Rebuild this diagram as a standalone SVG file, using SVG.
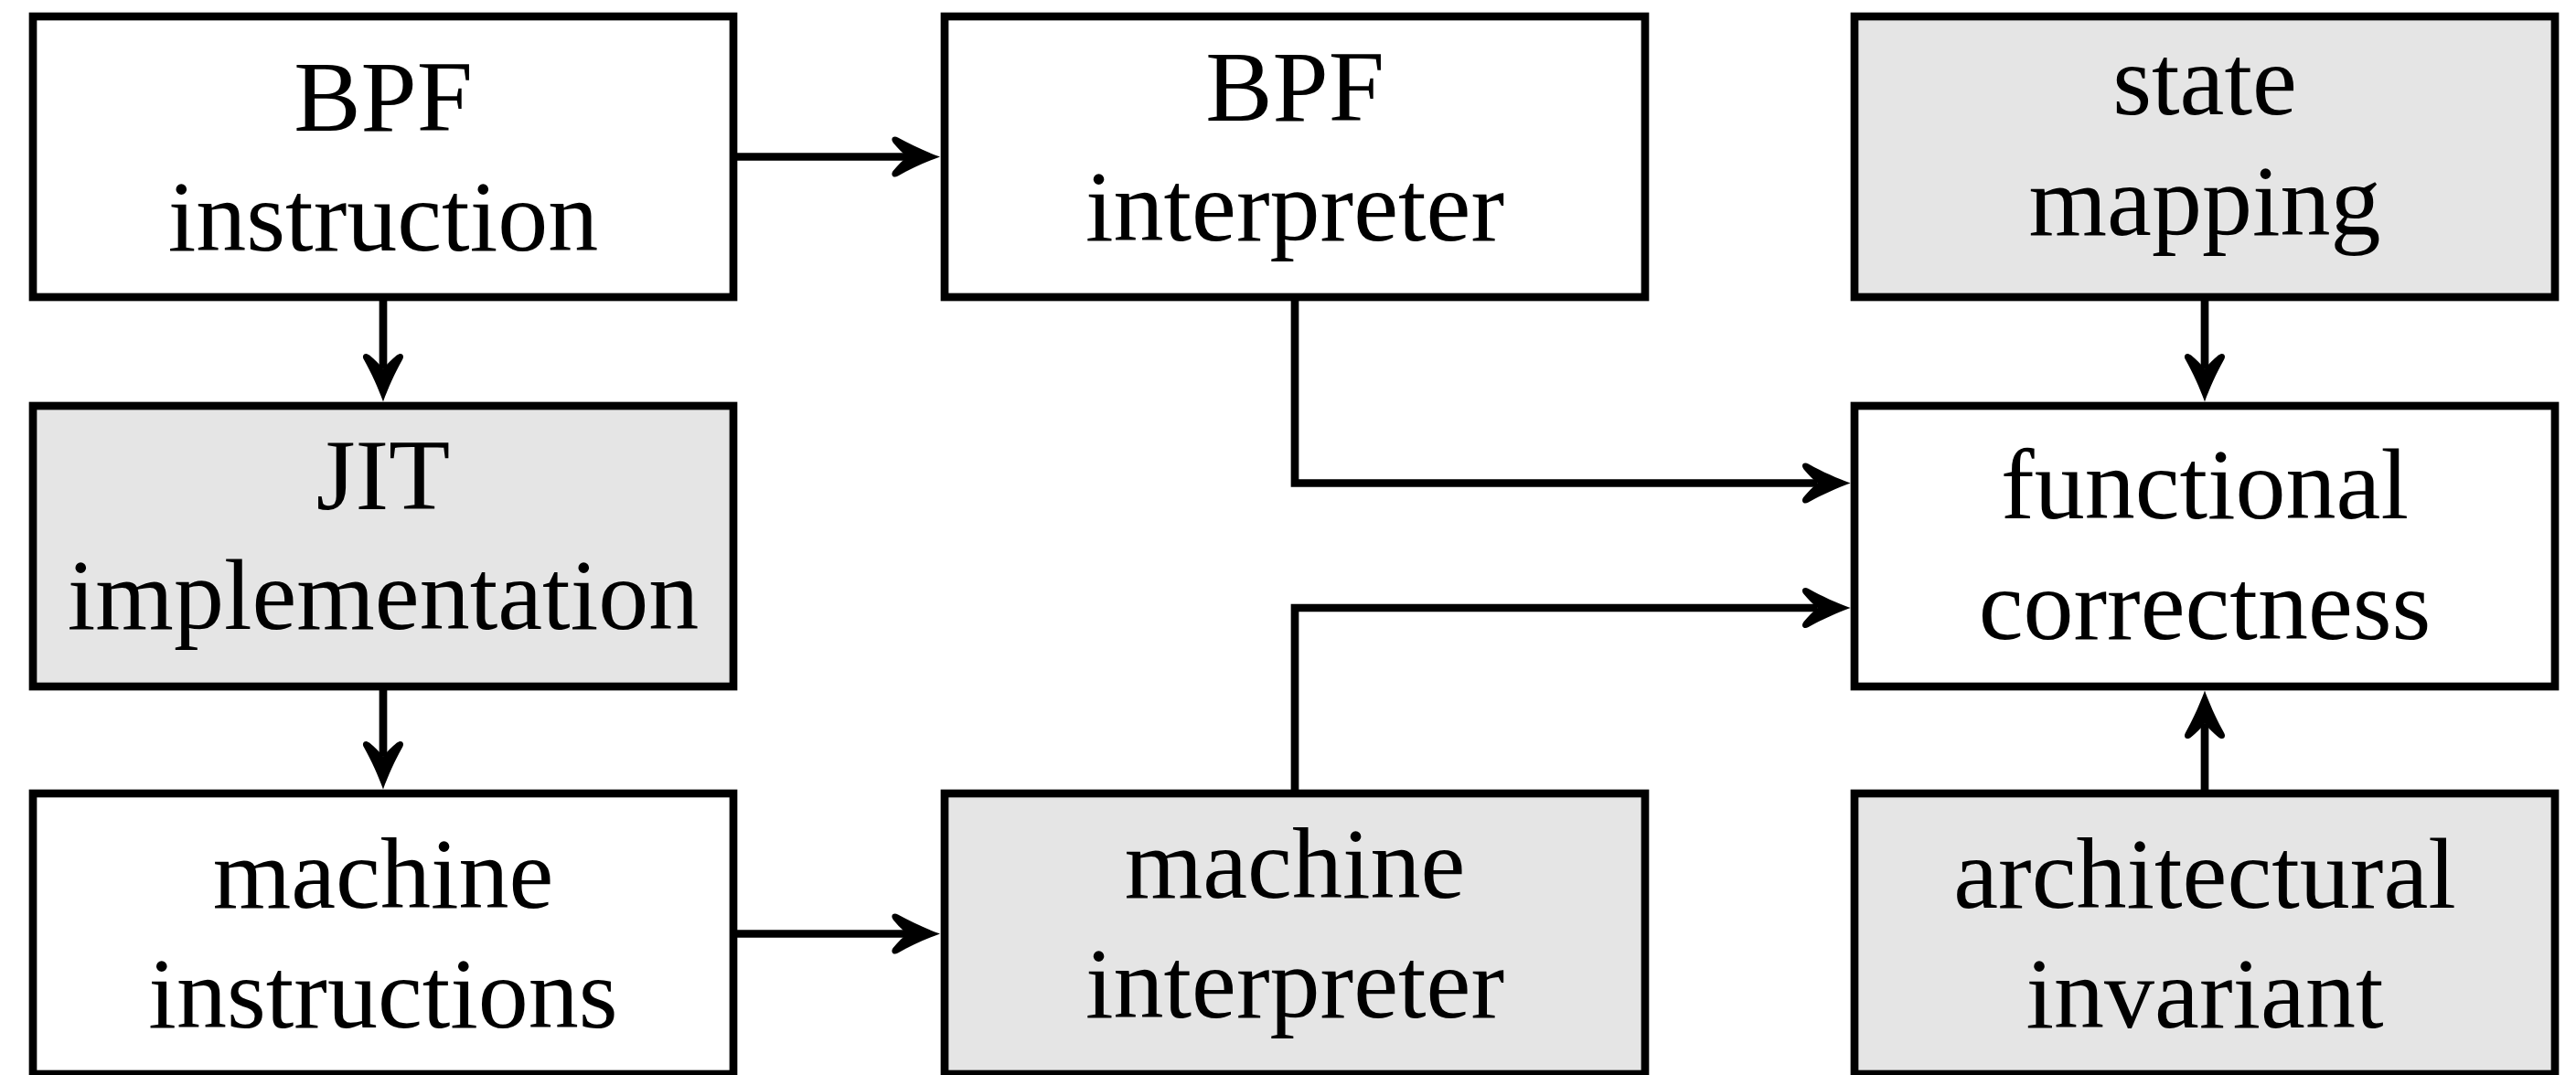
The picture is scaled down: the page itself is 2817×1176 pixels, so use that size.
<svg xmlns="http://www.w3.org/2000/svg" width="2817" height="1176" viewBox="0 0 2817 1176">
<style>
.box{stroke:#000;stroke-width:8.7;fill:#fff}
.gray{fill:#e5e5e5}
.lbl{font-family:'Liberation Serif','Times New Roman',serif;font-size:110px;text-anchor:middle;fill:#000}
.conn{fill:none;stroke:#000;stroke-width:8.7;marker-end:url(#ah)}
</style>
<defs>
<marker id="ah" markerUnits="userSpaceOnUse" viewBox="-25 -30 70 60" markerWidth="70" markerHeight="60" refX="0" refY="0" orient="auto" overflow="visible">
<path d="M 36 0 C 22 -5, 4 -13, -10 -21 C -15 -24, -19 -20, -15 -15 C -10 -9, -5 -4, 0 0 C -5 4, -10 9, -15 15 C -19 20, -15 24, -10 21 C 4 13, 22 5, 36 0 Z" fill="#000"/>
</marker>
</defs>
<rect width="2817" height="1176" fill="#fff"/>
<g id="connectors">
<path class="conn" d="M802,171.5 H992"/>
<path class="conn" d="M419,325 V403.6"/>
<path class="conn" d="M419,751 V827.6"/>
<path class="conn" d="M802,1021.5 H992"/>
<path class="conn" d="M1416,325 V528.5 H1987.6"/>
<path class="conn" d="M1416,868 V665 H1987.6"/>
<path class="conn" d="M2411,325 V403.6"/>
<path class="conn" d="M2411,868 V791.4"/>
</g>
<g id="bpf-instruction">
<rect class="box" x="36" y="18" width="766" height="307"/>
<text class="lbl" x="419" y="143">BPF</text>
<text class="lbl" x="419" y="274">instruction</text>
</g>
<g id="bpf-interpreter">
<rect class="box" x="1033" y="18" width="766" height="307"/>
<text class="lbl" x="1416" y="132">BPF</text>
<text class="lbl" x="1416" y="263">interpreter</text>
</g>
<g id="state-mapping">
<rect class="box gray" x="2028" y="18" width="766" height="307"/>
<text class="lbl" x="2411" y="125">state</text>
<text class="lbl" x="2411" y="257">mapping</text>
</g>
<g id="jit-implementation">
<rect class="box gray" x="36" y="444" width="766" height="307"/>
<text class="lbl" x="419" y="557">JIT</text>
<text class="lbl" x="419" y="688">implementation</text>
</g>
<g id="functional-correctness">
<rect class="box" x="2028" y="444" width="766" height="307"/>
<text class="lbl" x="2411" y="567">functional</text>
<text class="lbl" x="2411" y="699">correctness</text>
</g>
<g id="machine-instructions">
<rect class="box" x="36" y="868" width="766" height="307"/>
<text class="lbl" x="419" y="993">machine</text>
<text class="lbl" x="419" y="1124">instructions</text>
</g>
<g id="machine-interpreter">
<rect class="box gray" x="1033" y="868" width="766" height="307"/>
<text class="lbl" x="1416" y="982">machine</text>
<text class="lbl" x="1416" y="1113">interpreter</text>
</g>
<g id="architectural-invariant">
<rect class="box gray" x="2028" y="868" width="766" height="307"/>
<text class="lbl" x="2411" y="993">architectural</text>
<text class="lbl" x="2411" y="1124">invariant</text>
</g>
</svg>
